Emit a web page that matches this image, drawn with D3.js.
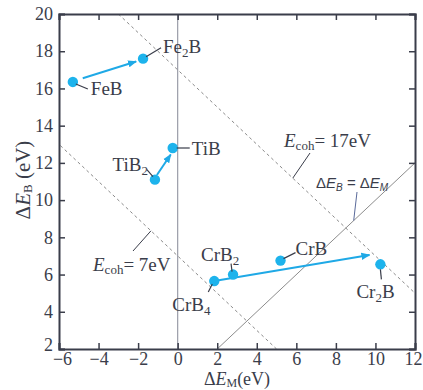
<!DOCTYPE html>
<head>
    <meta charset="utf-8">
    <script src="https://d3js.org/d3.v7.min.js"></script>
    <style>
      body { margin: 0; background: white; }
      text { font-family: "Liberation Serif", "DejaVu Serif", serif; fill: #3a3d4a; }
      .tick text { font-size: 18px; }
      .lbl { font-size: 19px; }
      .sans { font-family: "Liberation Sans", Arial, sans-serif; }
    </style>
<body>
    <script>
        var compounds = ["FeB", "Fe2B", "TiB2", "TiB", "CrB4", "CrB2", "CrB", "Cr2B"]
        var dEM = [-5.3, -1.75, -1.15, -0.25, 1.85, 2.8, 5.2, 10.25]
        var dEB = [16.35, 17.6, 11.1, 12.8, 5.65, 6.0, 6.75, 6.55]

        // arrows: [fromM, fromB, toM, toB]
        var arrowsData = [
          [-4.8, 16.55, -2.1, 17.45],
          [-1.05, 11.35, -0.35, 12.45],
          [1.85, 5.65, 9.7, 7.05]
        ]
        var xTicks = [-6, -4, -2, 0, 2, 4, 6, 8, 10, 12]
        var yTicks = [2, 4, 6, 8, 10, 12, 14, 16, 18, 20]
        var cohValues = [7, 17]

        var margin = {left: 59, right: 8, top: 14, bottom: 41}
        var svg_w = 423, svg_h = 390
        var svg = d3.select("body").append("svg")
          .attr("width", svg_w).attr("height", svg_h)

        var x = d3.scaleLinear().domain([-6, 12]).range([margin.left, svg_w - margin.right])
        var y = d3.scaleLinear().domain([2, 20]).range([svg_h - margin.bottom, margin.top])

        var defs = svg.append("defs")
        defs.append("clipPath").attr("id", "plotclip")
          .append("rect")
          .attr("x", x(-6)).attr("y", y(20))
          .attr("width", x(12) - x(-6)).attr("height", y(2) - y(20))
        defs.append("marker")
          .attr("id", "ahead")
          .attr("viewBox", "0 0 10 10")
          .attr("refX", 9).attr("refY", 5)
          .attr("markerWidth", 4.5).attr("markerHeight", 4.5)
          .attr("orient", "auto")
          .append("path").attr("d", "M0,1 L10,5 L0,9 z").attr("fill", "#1fa9e6")

        var plot = svg.append("g").attr("clip-path", "url(#plotclip)")

        // x = 0 vertical line
        plot.append("line")
          .attr("x1", x(0)).attr("x2", x(0)).attr("y1", y(2)).attr("y2", y(20))
          .attr("stroke", "#9a9ca8").attr("stroke-width", 1.2)

        // constant cohesive energy lines
        plot.selectAll(".coh").data(cohValues).enter().append("line")
          .attr("x1", function(c) { return x(c - 20) })
          .attr("y1", y(20))
          .attr("x2", function(c) { return x(c - 2) })
          .attr("y2", y(2))
          .attr("stroke", "#8a8a8a").attr("stroke-width", 1)
          .attr("stroke-dasharray", "3,3")

        // dEB = dEM
        plot.append("line")
          .attr("x1", x(2)).attr("y1", y(2)).attr("x2", x(12)).attr("y2", y(12))
          .attr("stroke", "#8c8c8c").attr("stroke-width", 1)

        // axes, ticks inward on all sides
        var axB = svg.append("g").attr("transform", "translate(0," + y(2) + ")")
          .call(d3.axisBottom(x).tickValues(xTicks).tickSize(-6).tickPadding(3).tickFormat(d3.format("d")))
        var axT = svg.append("g").attr("transform", "translate(0," + y(20) + ")")
          .call(d3.axisTop(x).tickValues(xTicks).tickSize(-6).tickFormat(""))
        var axL = svg.append("g").attr("transform", "translate(" + x(-6) + ",0)")
          .call(d3.axisLeft(y).tickValues(yTicks).tickSize(-6).tickPadding(6).tickFormat(d3.format("d")))
        var axR = svg.append("g").attr("transform", "translate(" + x(12) + ",0)")
          .call(d3.axisRight(y).tickValues(yTicks).tickSize(-6).tickFormat(""))
        ;[axB, axT, axL, axR].forEach(function(a) {
          a.select(".domain").attr("stroke", "#3a3d4a").attr("stroke-width", 2)
          a.selectAll(".tick line").attr("stroke", "#3a3d4a").attr("stroke-width", 1.5)
          a.selectAll(".tick text").attr("fill", "#3a3d4a")
        })
        axB.selectAll(".tick text").filter(function(d) { return d == 12 }).attr("dx", -2)
        axB.selectAll(".tick text").filter(function(d) { return d == -6 }).attr("dx", 3)
        axL.selectAll(".tick text").filter(function(d) { return d == 2 }).attr("dy", "0.1em")

        // arrows
        svg.selectAll(".arrow").data(arrowsData).enter().append("line")
          .attr("x1", function(a) { return x(a[0]) })
          .attr("y1", function(a) { return y(a[1]) })
          .attr("x2", function(a) { return x(a[2]) })
          .attr("y2", function(a) { return y(a[3]) })
          .attr("stroke", "#1fa9e6").attr("stroke-width", 2)
          .attr("marker-end", "url(#ahead)")

        // points
        svg.selectAll(".pt").data(compounds).enter().append("circle")
          .attr("cx", function(d, i) { return x(dEM[i]) })
          .attr("cy", function(d, i) { return y(dEB[i]) })
          .attr("r", 5.2)
          .attr("fill", "#1db3ec")

        // leader line offsets and label offsets, in pixels from the point
        var labelLayout = {
          "FeB":  {l: [3, 2, 15, 7], t: [18, 13], a: "start"},
          "Fe2B": {l: [3, -2, 18, -11], t: [20, -6], a: "start"},
          "TiB2": {l: [-2, -3, -8, -10], t: [-7, -9], a: "end"},
          "TiB":  {l: [4, 0, 17, 0], t: [19, 7], a: "start"},
          "CrB4": {l: [-2, 3, -6, 11], t: [-42, 30], a: "start"},
          "CrB2": {l: [-1, -3, -2, -11], t: [-32, -14], a: "start"},
          "CrB":  {l: [3, -2, 15, -8], t: [15, -6], a: "start"},
          "Cr2B": {l: [0, 5, 1, 15], t: [-24, 34], a: "start"}
        }
        compounds.forEach(function(c, i) {
          var px = x(dEM[i]), py = y(dEB[i]), L = labelLayout[c]
          svg.append("line")
            .attr("x1", px + L.l[0]).attr("y1", py + L.l[1])
            .attr("x2", px + L.l[2]).attr("y2", py + L.l[3])
            .attr("stroke", "#3a3d4a").attr("stroke-width", 1.2)
          var t = svg.append("text").attr("class", "lbl")
            .attr("x", px + L.t[0]).attr("y", py + L.t[1])
            .attr("text-anchor", L.a)
          // element, subscript digit, trailing B
          var parts = c.replace(/(\d)/, "|$1|").split("|")
          t.append("tspan").text(parts[0])
          if (parts.length > 1) {
            t.append("tspan").attr("font-size", "13px").attr("dy", 4).text(parts[1])
            if (parts[2]) t.append("tspan").attr("dy", -4).text(parts[2])
          }
        })

        // Ecoh labels
        function cohLabel(tx, ty, val, lx1, ly1, lx2, ly2) {
          var t = svg.append("text").attr("x", tx).attr("y", ty).attr("font-size", "19px")
          t.append("tspan").attr("font-style", "italic").text("E")
          t.append("tspan").attr("font-size", "13px").attr("dy", 3).text("coh")
          t.append("tspan").attr("dy", -3).text("= " + val + "eV")
          svg.append("line").attr("x1", lx1).attr("y1", ly1).attr("x2", lx2).attr("y2", ly2)
            .attr("stroke", "#3a3d4a").attr("stroke-width", 1)
        }
        cohLabel(93, 271, 7, 133, 251, x(-1.35), y(7 + 1.35))
        cohLabel(284, 147, 17, 310, 153, x(5.82), y(17 - 5.82))

        // dEB = dEM label
        var eq = svg.append("text").attr("class", "sans").attr("x", 316).attr("y", 188)
          .attr("font-size", "15px")
        eq.append("tspan").text("Δ")
        eq.append("tspan").attr("font-style", "italic").text("E")
        eq.append("tspan").attr("font-style", "italic").attr("font-size", "10px").attr("dy", 3).text("B")
        eq.append("tspan").attr("dy", -3).text(" = Δ")
        eq.append("tspan").attr("font-style", "italic").text("E")
        eq.append("tspan").attr("font-style", "italic").attr("font-size", "10px").attr("dy", 3).text("M")
        svg.append("line").attr("x1", 357).attr("y1", 192).attr("x2", x(8.9)).attr("y2", y(8.9))
          .attr("stroke", "#5a6a9a").attr("stroke-width", 1)

        // axis titles
        var xt = svg.append("text").attr("x", 237).attr("y", 385).attr("text-anchor", "middle")
          .attr("font-size", "18px")
        xt.append("tspan").text("Δ")
        xt.append("tspan").attr("font-style", "italic").text("E")
        xt.append("tspan").attr("font-size", "12px").attr("dy", 2).text("M")
        xt.append("tspan").attr("dy", -2).text("(eV)")

        var yt = svg.append("text").attr("transform", "translate(30,180) rotate(-90)")
          .attr("text-anchor", "middle").attr("font-size", "21px")
        yt.append("tspan").text("Δ")
        yt.append("tspan").attr("font-style", "italic").text("E")
        yt.append("tspan").attr("font-size", "13px").attr("dy", 2).text("B")
        yt.append("tspan").attr("dy", -2).text(" (eV)")
    </script>
</body>
